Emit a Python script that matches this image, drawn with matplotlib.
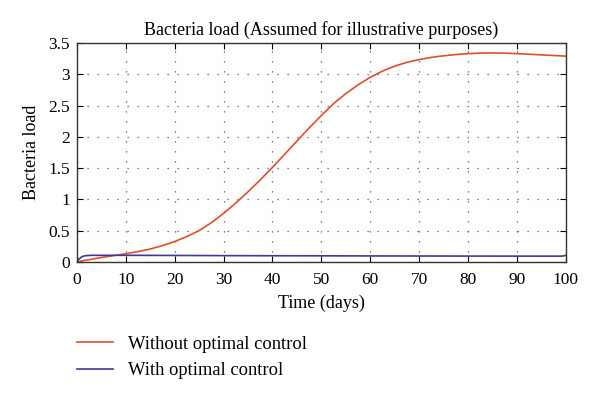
import numpy as np
import matplotlib
import matplotlib.pyplot as plt

matplotlib.use('Agg')

# values
t_no = [0, 2.5, 5, 7.5, 10, 12.5, 15, 17.5, 20, 22.5, 25, 27.5, 30, 32.5, 35, 37.5,
        40, 42.5, 45, 47.5, 50, 52.5, 55, 57.5, 60, 62.5, 65, 67.5, 70, 72.5, 75,
        77.5, 80, 82.5, 85, 87.5, 90, 92.5, 95, 97.5, 100]
load_no = [0.0, 0.035, 0.07, 0.10, 0.13, 0.165, 0.205, 0.26, 0.325, 0.405, 0.50, 0.625, 0.775,
           0.94, 1.12, 1.31, 1.51, 1.72, 1.93, 2.14, 2.34, 2.53, 2.69, 2.83, 2.95,
           3.05, 3.13, 3.19, 3.235, 3.27, 3.295, 3.315, 3.33, 3.338, 3.34, 3.337, 3.33,
           3.32, 3.31, 3.30, 3.29]

t_opt = [0, 0.5, 1, 1.5, 2, 3, 5, 10, 20, 30, 40, 50, 60, 70, 80, 90, 99, 99.5, 100]
load_opt = [0.0, 0.05, 0.08, 0.095, 0.10, 0.105, 0.105, 0.105, 0.103, 0.10, 0.098,
            0.097, 0.095, 0.094, 0.093, 0.092, 0.092, 0.095, 0.105]

red = '#DF4F28'
blue = '#3F3A98'

plt.rcParams['font.family'] = ['Liberation Serif', 'DejaVu Serif']

fig = plt.figure(figsize=(6, 3.98), dpi=100)
ax = fig.add_axes([0.128, 0.342, 0.815, 0.550])

l1, = ax.plot(t_no, load_no, color=red, lw=1.2)
l2, = ax.plot(t_opt, load_opt, color=blue, lw=1.2)

ax.set_xlim(0, 100)
ax.set_ylim(0, 3.5)
ax.set_xticks(np.arange(0, 101, 10))
ax.set_yticks(np.arange(0, 3.51, 0.5))
ax.set_yticklabels(['0', '0.5', '1', '1.5', '2', '2.5', '3', '3.5'])
ax.tick_params(direction='in', top=True, right=True, labelsize=12.5, length=4, width=0.8)
ax.tick_params(axis='x', pad=7)
ax.tick_params(axis='y', pad=5)
ax.grid(True, linestyle=(0, (1, 7)), color='#555555', lw=0.9)
for s in ax.spines.values():
    s.set_linewidth(1.0)
    s.set_color('#333333')

ax.set_title('Bacteria load (Assumed for illustrative purposes)', fontsize=13, pad=6)
ax.set_xlabel('Time (days)', fontsize=13, labelpad=5)
ax.set_ylabel('Bacteria load', fontsize=13, labelpad=6)

fig.legend([l1, l2], ['Without optimal control', 'With optimal control'],
           loc='upper left', bbox_to_anchor=(0.128, 0.156), frameon=False,
           borderpad=0, borderaxespad=0,
           fontsize=13.3, handlelength=1.95, handletextpad=0.8, labelspacing=0.5)

fig.savefig('out.png', dpi=100)
